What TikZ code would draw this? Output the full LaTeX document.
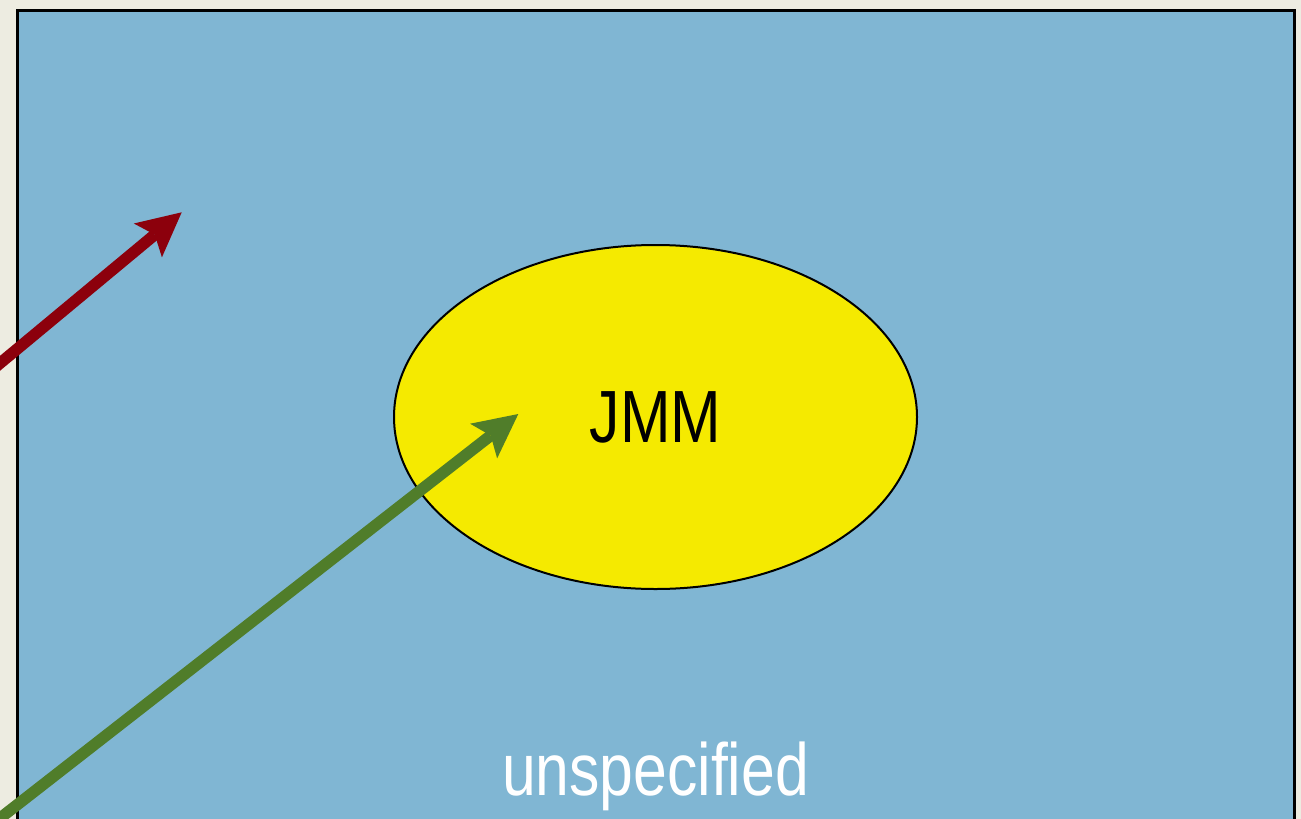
\documentclass[tikz,border=0pt]{standalone}
\usepackage{fontspec}
\setmainfont{Liberation Sans}
\newfontfamily\narrowsans[FakeStretch=0.82]{Liberation Sans}
\usetikzlibrary{arrows.meta,shapes.geometric}

\definecolor{paper}{RGB}{237,236,225}
\definecolor{sky}{RGB}{128,182,211}
\definecolor{lemon}{RGB}{245,234,0}
\definecolor{maroon}{RGB}{140,0,12}
\definecolor{moss}{RGB}{80,125,42}

\tikzset{
  universe/.style={draw=black, line width=3pt, fill=sky, anchor=north west,
                   inner sep=0pt, outer sep=0pt},
  setblob/.style={ellipse, draw=black, line width=2pt, fill=lemon,
                  inner sep=0pt, text=black,
                  font=\narrowsans\fontsize{74pt}{80pt}\selectfont},
  caption/.style={text=white, anchor=base, inner sep=0pt,
                  font=\narrowsans\fontsize{74pt}{80pt}\selectfont},
  pointer/.style={line width=11.5pt,
                  -{Stealth[length=44pt, width=44pt, inset=9pt, line width=0pt]}},
}

\begin{document}
\begin{tikzpicture}[x=1pt, y=-1pt]
  \useasboundingbox (0,0) rectangle (1301,819);
  \fill[paper] (0,0) rectangle (1301,819);

  \begin{scope}
    \clip (0,0) rectangle (1301,819);

    % the surrounding region
    \node[universe, minimum width=1277pt, minimum height=840pt] (universe) at (17,10) {};

    % the set
    \node[setblob, minimum width=523pt, minimum height=344pt] (jmm) at (655.5,417) {JMM};

    % label of the surrounding region
    \node[caption] (unspec) at (655.5,795) {unspecified};

    % arrows coming in from the left
    \coordinate (redtail) at (-49,404);
    \coordinate (redtip) at (181.7,212.3);
    \coordinate (greentail) at (-60,865);
    \coordinate (greentip) at (518.3,414);

    \draw[pointer, maroon] (redtail) -- (redtip);
    \draw[pointer, moss] (greentail) -- (greentip);
  \end{scope}
\end{tikzpicture}
\end{document}
